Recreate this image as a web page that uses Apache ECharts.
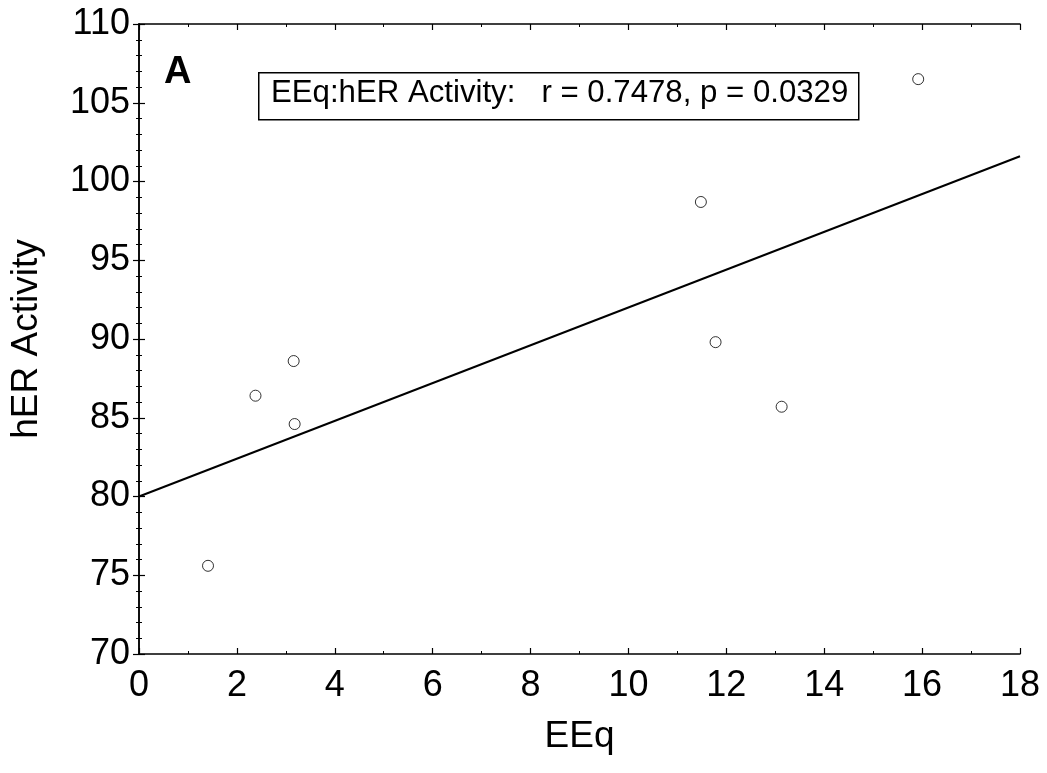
<!DOCTYPE html>
<html>
<head>
<meta charset="utf-8">
<script src="https://cdn.jsdelivr.net/npm/echarts@6/dist/echarts.min.js"></script>
<style>html,body{margin:0;padding:0;background:#fff;}#c{width:1047px;height:773px;}</style>
</head>
<body>
<div id="c"></div>
<script>
// Data
var eeq = [1.41, 2.38, 3.16, 3.18, 11.48, 11.78, 13.13, 15.92];
var herActivity = [75.6, 86.4, 88.6, 84.6, 98.7, 89.8, 85.7, 106.5];
var fitX = [0, 18];
var fitY = [80.0, 101.6];
var xTicks = [0, 2, 4, 6, 8, 10, 12, 14, 16, 18];
var yTicks = [70, 75, 80, 85, 90, 95, 100, 105, 110];
var panelLabel = 'A';
var statsText = 'EEq:hER Activity:   r = 0.7478, p = 0.0329';
var xTitle = 'EEq';
var yTitle = 'hER Activity';

var font = 'Liberation Sans, Arial, sans-serif';
var points = eeq.map(function (x, i) { return [x, herActivity[i]]; });
var fit = fitX.map(function (x, i) { return [x, fitY[i]]; });

var chart = echarts.init(document.getElementById('c'), null, {renderer: 'canvas'});
var axisLine = {show: true, lineStyle: {color: '#000', width: 1.5}};
var tickIn = {show: true, inside: true, length: 6, lineStyle: {color: '#000', width: 1.2}};
var minorIn = {show: true, splitNumber: 2, length: 3, lineStyle: {color: '#000', width: 1}};
var minorInY = {show: true, splitNumber: 5, length: 3, lineStyle: {color: '#000', width: 1}};

chart.setOption({
  backgroundColor: '#fff',
  animation: false,
  grid: {left: 137, right: 27, top: 24, bottom: 119, containLabel: false},
  xAxis: [{
    type: 'value', min: xTicks[0], max: xTicks[xTicks.length - 1], interval: 2,
    position: 'bottom',
    name: xTitle, nameLocation: 'middle', nameGap: 64,
    nameTextStyle: {fontFamily: font, fontSize: 37, color: '#000'},
    axisLine: axisLine, axisTick: tickIn, minorTick: minorIn,
    axisLabel: {fontFamily: font, fontSize: 36, color: '#000', margin: 14},
    splitLine: {show: false}
  }, {
    type: 'value', min: xTicks[0], max: xTicks[xTicks.length - 1], interval: 2,
    position: 'top',
    axisLine: axisLine, axisTick: tickIn, minorTick: minorIn,
    axisLabel: {show: false}, splitLine: {show: false}
  }],
  yAxis: [{
    type: 'value', min: yTicks[0], max: yTicks[yTicks.length - 1], interval: 5,
    position: 'left',
    name: yTitle, nameLocation: 'middle', nameGap: 94, nameRotate: 90,
    nameTextStyle: {fontFamily: font, fontSize: 37, color: '#000'},
    axisLine: axisLine, axisTick: tickIn, minorTick: minorInY,
    axisLabel: {fontFamily: font, fontSize: 36, color: '#000', margin: 9},
    splitLine: {show: false}
  }, {
    type: 'value', min: yTicks[0], max: yTicks[yTicks.length - 1], interval: 5,
    position: 'right',
    axisLine: axisLine, axisTick: tickIn, minorTick: minorInY,
    axisLabel: {show: false}, splitLine: {show: false}
  }],
  series: [{
    type: 'line', data: fit, xAxisIndex: 0, yAxisIndex: 0,
    showSymbol: false, symbol: 'none',
    lineStyle: {color: '#000', width: 2}, z: 2
  }, {
    type: 'scatter', data: points, xAxisIndex: 0, yAxisIndex: 0,
    symbol: 'circle', symbolSize: 11,
    itemStyle: {color: '#fff', borderColor: '#000', borderWidth: 1}, z: 3
  }],
  graphic: [{
    type: 'text', left: 164, top: 54,
    style: {text: panelLabel, font: 'bold 38px ' + font, fill: '#000'}
  }, {
    type: 'rect', left: 258, top: 72,
    shape: {width: 600, height: 47},
    style: {fill: '#fff', stroke: '#000', lineWidth: 1.5}, z: 10
  }, {
    type: 'text', left: 271, top: 78, z: 11,
    style: {text: statsText, font: '31.2px ' + font, fill: '#000'}
  }]
});
</script>
</body>
</html>
